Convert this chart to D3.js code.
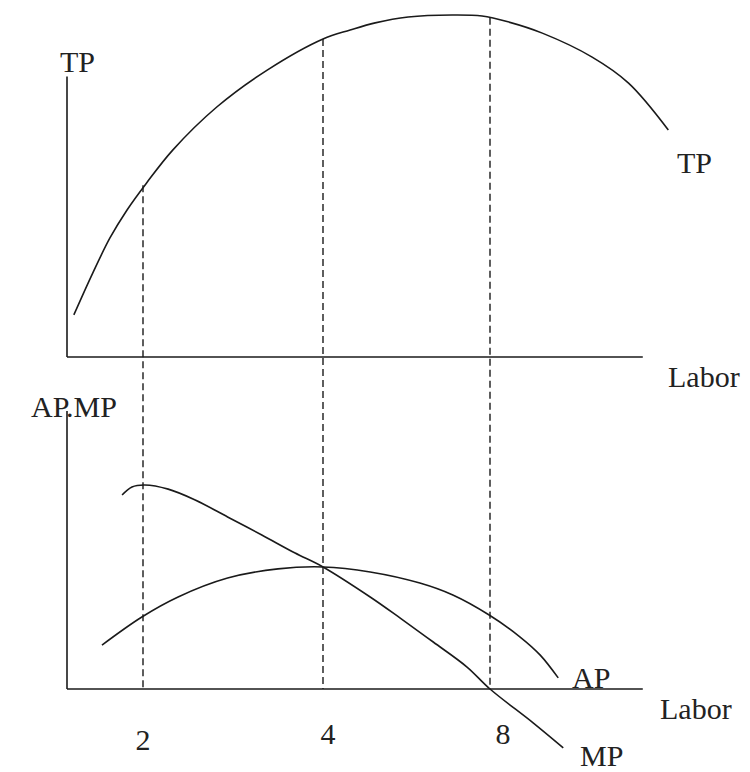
<!DOCTYPE html>
<html>
<head>
<meta charset="utf-8">
<script src="https://cdn.jsdelivr.net/npm/d3@7"></script>
<style>
    body { margin: 0; background: #fff; }
</style>
</head>
<body>
<div id="chart"></div>
<script>
// Labor breakpoints (the drawn axis is not evenly spaced between 2, 4 and 8)
const laborBreaks = [0, 2, 4, 8, 12.3];
const laborTicks = [2, 4, 8];

// Total product
const tpLabor = [0.18, 0.68, 1.13, 1.58, 2.04, 2.33, 2.82, 3.38, 4.0, 4.65, 5.25, 6.04, 7.09, 7.81, 8.43, 9.25, 10.44, 11.31, 12.26];
const tpValues = [12.3, 24.6, 34.8, 43.0, 50.9, 60.5, 73.1, 83.9, 93.0, 95.6, 97.7, 99.4, 100, 99.7, 98.0, 94.7, 87.7, 80.1, 66.4];

// Marginal and average product, lower panel
const mpLabor = [1.45, 1.71, 2.02, 2.28, 2.58, 2.94, 3.32, 3.69, 4.0, 5.13, 5.85, 6.64, 7.45, 8.0, 9.03, 9.75];
const mpValues = [69.8, 72.7, 73.4, 71.9, 68.0, 61.9, 55.4, 48.9, 43.9, 33.1, 25.5, 16.9, 7.9, 0, -12.2, -21.2];
const apLabor = [0.92, 1.97, 2.39, 2.94, 3.5, 4.0, 5.13, 6.32, 7.11, 7.98, 8.72, 9.2, 9.63];
const apValues = [15.8, 25.9, 33.1, 39.9, 43.2, 43.9, 42.1, 38.1, 33.8, 26.6, 18.7, 12.2, 4.0];

const width = 750, height = 772;
const serif = "'Liberation Serif', 'Times New Roman', 'DejaVu Serif', serif";

const svg = d3.select("#chart")
    .append("svg")
    .attr("width", width)
    .attr("height", height)
    .style("font-family", serif);

const x = d3.scaleLinear()
    .domain(laborBreaks)
    .range([67, 143, 323, 490, 670]);

const yTop = d3.scaleLinear().domain([0, 100]).range([357, 15]);
const yBottom = d3.scaleLinear().domain([0, 100]).range([689, 411]);

const axisEnd = 11.65;
const ink = "#1a1a1a";

// axes
function drawAxes(y, top) {
    const g = svg.append("g").attr("class", "axes");
    g.append("line")
        .attr("x1", x(0)).attr("x2", x(0))
        .attr("y1", y(top)).attr("y2", y(0))
        .attr("stroke", ink).attr("stroke-width", 1.6);
    g.append("line")
        .attr("x1", x(0)).attr("x2", x(axisEnd))
        .attr("y1", y(0)).attr("y2", y(0))
        .attr("stroke", ink).attr("stroke-width", 1.6);
}
drawAxes(yTop, 82);
drawAxes(yBottom, 100);

const zip = (xs, ys) => xs.map((l, i) => ({ labor: l, value: ys[i] }));
const tp = zip(tpLabor, tpValues);
const mp = zip(mpLabor, mpValues);
const ap = zip(apLabor, apValues);

// dashed guides from the TP curve down to the lower axis
const tpAt = d3.scaleLinear().domain(tpLabor).range(tpValues);
svg.append("g")
    .selectAll("line")
    .data(laborTicks)
    .join("line")
    .attr("x1", d => x(d)).attr("x2", d => x(d))
    .attr("y1", d => yTop(tpAt(d)))
    .attr("y2", yBottom(0))
    .attr("stroke", ink)
    .attr("stroke-width", 1.4)
    .attr("stroke-dasharray", "7,4");

function curve(data, y) {
    svg.append("path")
        .datum(data)
        .attr("fill", "none")
        .attr("stroke", ink)
        .attr("stroke-width", 1.6)
        .attr("d", d3.line()
            .x(d => x(d.labor))
            .y(d => y(d.value))
            .curve(d3.curveCatmullRom.alpha(0.5)));
}
curve(tp, yTop);
curve(mp, yBottom);
curve(ap, yBottom);

// tick labels
svg.append("g")
    .selectAll("text")
    .data(laborTicks)
    .join("text")
    .attr("x", d => x(d) + (d === 2 ? 0 : d === 4 ? 5 : 13))
    .attr("y", d => d === 2 ? 750 : 744)
    .attr("text-anchor", "middle")
    .attr("font-family", serif)
    .attr("font-size", 30)
    .attr("fill", "#222")
    .text(d => d);

// labels
const labels = [
    { text: "TP", x: 60, y: 72 },
    { text: "TP", x: 677, y: 173 },
    { text: "Labor", x: 668, y: 387 },
    { text: "AP.MP", x: 31, y: 417 },
    { text: "AP", x: 572, y: 688 },
    { text: "Labor", x: 660, y: 719 },
    { text: "MP", x: 580, y: 766 }
];
svg.append("g")
    .selectAll("text")
    .data(labels)
    .join("text")
    .attr("x", d => d.x)
    .attr("y", d => d.y)
    .attr("font-family", serif)
    .attr("font-size", 30)
    .attr("fill", "#222")
    .text(d => d.text);
</script>
</body>
</html>
